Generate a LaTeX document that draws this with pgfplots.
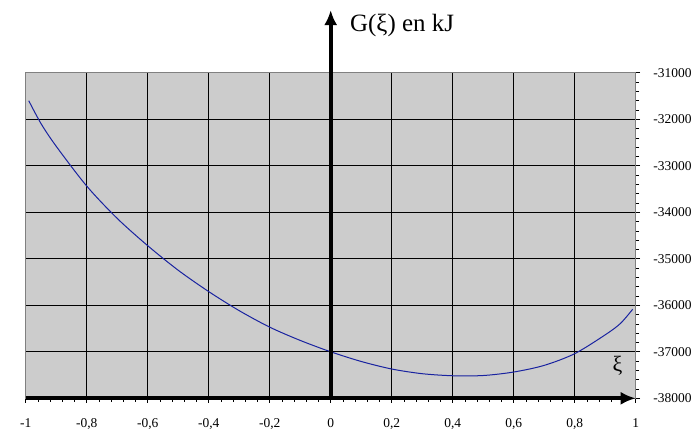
\documentclass[border=0pt]{standalone}
\usepackage{pgfplots}
\pgfplotsset{compat=1.18}
\usepackage{fontspec}
\setmainfont{Liberation Serif}
\usetikzlibrary{arrows.meta}
\definecolor{plotbg}{RGB}{204,204,204}
\definecolor{curvecol}{RGB}{25,35,160}
\begin{document}
\begin{tikzpicture}
\begin{axis}[
  at={(0,0)}, anchor=south west,
  scale only axis, width=610bp, height=325.5bp,
  xmin=-1, xmax=1, ymin=-38000, ymax=-31000,
  xtick={-1,-0.8,-0.6,-0.4,-0.2,0,0.2,0.4,0.6,0.8,1},
  ytick={-38000,-37000,-36000,-35000,-34000,-33000,-32000,-31000},
  scaled y ticks=false,
  minor x tick num=4, minor y tick num=4,
  tick align=outside, xtick pos=lower, ytick pos=right,
  major tick length=4.5bp, minor tick length=3.5bp,
  axis background/.style={fill=plotbg},
  grid=major, major grid style={black, line width=0.9bp},
  axis line style={gray, line width=1bp},
  tick style={black, line width=0.8bp},
  clip=false,
  /pgf/number format/assume math mode=true,
  xticklabel style={/pgf/number format/use comma, anchor=base, yshift=-25bp, inner sep=0pt},
  yticklabel style={/pgf/number format/1000 sep={}, /pgf/number format/fixed, anchor=west, xshift=13bp, inner sep=0pt},
  ticklabel style={font=\fontsize{13.5}{16}\selectfont},
]
\addplot[curvecol, line width=1bp, smooth] coordinates {
(-0.99,-31600) (-0.95,-32090) (-0.9,-32580) (-0.8,-33435)
(-0.7,-34131) (-0.6,-34718) (-0.5,-35246)
(-0.4,-35705) (-0.3,-36115) (-0.2,-36470) (-0.1,-36755)
(0,-37000) (0.1,-37208) (0.2,-37370) (0.3,-37471) (0.4,-37515)
(0.5,-37510) (0.6,-37435) (0.7,-37292) (0.8,-37040) (0.9,-36635)
(0.95,-36390) (0.99,-36085)
};
\draw[line width=4bp, -{Latex[length=15bp,width=13bp]}] (axis cs:-1,-38000) -- (axis cs:1,-38000);
\draw[line width=4bp, -{Latex[length=15bp,width=13bp]}] (axis cs:0,-38000) -- (axis cs:0,-29650);
\node[anchor=base west, inner sep=0pt, font=\fontsize{25}{30}\selectfont] at (axis cs:0.0633,-30116) {G(ξ) en kJ};
\node[inner sep=0pt, font=\fontsize{22}{26}\selectfont] at (axis cs:0.94,-37290) {ξ};
\end{axis}
\pgfresetboundingbox
\path[use as bounding box] (-25.7bp,-31.7bp) rectangle (673.3bp,398.3bp);
\end{tikzpicture}
\end{document}
